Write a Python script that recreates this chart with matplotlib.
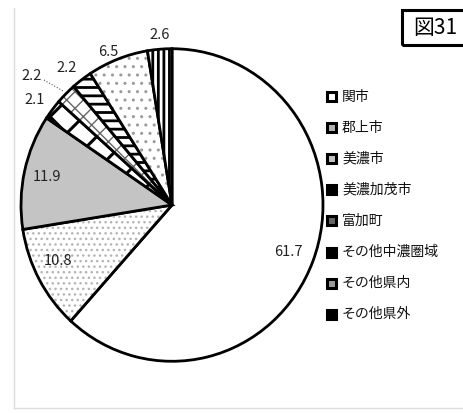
#!/usr/bin/env python3
# Pie chart: share by area (図31)
import matplotlib
matplotlib.use("Agg")
import matplotlib.pyplot as plt
from matplotlib.colors import to_rgba
from matplotlib.patches import Rectangle

plt.rcParams['font.family'] = ['Noto Sans CJK JP', 'DejaVu Sans']
plt.rcParams['hatch.linewidth'] = 1.8

# data (percent)
areas = ['関市', '郡上市', '美濃市', '美濃加茂市', '富加町',
         'その他中濃圏域', 'その他県内', 'その他県外']
shares = [61.7, 10.8, 11.9, 2.1, 2.2, 2.2, 6.5, 2.6]
value_labels = ['61.7', '10.8', '11.9', '2.1', '2.2', '2.2', '6.5', '2.6']

# styling of each wedge
faces = ['white', 'white', '#c4c4c4', 'white', 'white', 'white', 'white', 'white']
hatches = [None, '...', None, 'x', 'xx', '--', '..', '|||']
hatch_cols = ['black', '#b4b4b4', 'black', 'black', '#666666', 'black', '#9a9a9a', 'black']
hatch_lw = [1, 1, 1, 2.2, 1.0, 2.0, 1, 2.0]

# label positions in figure pixels (x, y from top)
label_pos = [(288, 252), (58, 261), (47, 177), (35, 100), (32, 76),
             (67, 68), (108, 52), (160, 35)]

W, H = 463, 413
CX, CY, R = 172, 205, 151
SY = 1.035          # the scanned pie is a little taller than wide


def pt(x, y):
    """figure pixel (y from top) -> data coords"""
    return x, (H - y) / SY


fig = plt.figure(figsize=(W / 100, H / 100), dpi=100)
ax = fig.add_axes([0, 0, 1, 1])

wedges, _ = ax.pie(shares, startangle=90, counterclock=False,
                   center=pt(CX, CY), radius=R,
                   wedgeprops=dict(edgecolor='black', linewidth=2.0))
for w, fc, h, hc, hl in zip(wedges, faces, hatches, hatch_cols, hatch_lw):
    w.set_facecolor(fc)
    if h:
        w.set_hatch(h)
        w._hatch_color = to_rgba(hc)
        if hasattr(w, 'set_hatch_linewidth'):
            w.set_hatch_linewidth(hl)

ax.set_aspect('auto')
ax.set_xlim(0, W)
ax.set_ylim(0, H / SY)
ax.axis('off')

# value labels
for (x, y), t in zip(label_pos, value_labels):
    ax.text(*pt(x, y), t, ha='center', va='center', fontsize=10.5, color='#222222')
# leader line for the small slice
(x0, y0), (x1, y1) = pt(44, 80), pt(63, 91)
ax.plot([x0, x1], [y0, y1], color='#555555', lw=0.8, ls=':')

# faint outer frame
(x0, y0), (x1, y1) = pt(14, 8), pt(W, 408)
ax.plot([x0, x0], [y0, y1], color='#dddddd', lw=1)
ax.plot([x0, x1], [y1, y1], color='#dddddd', lw=1)

# figure number box
bx, by = pt(402, 45)
ax.add_patch(Rectangle((bx, by), 80, 35 / SY, fill=False, edgecolor='black',
                       lw=2.2, clip_on=True))
ax.text(*pt(413, 28), '図31', ha='left', va='center', fontsize=15)

# legend drawn by hand: small boxed squares + labels
for i, (name, fc, hc) in enumerate(zip(areas, faces, hatch_cols)):
    lx, ly = pt(327, 97 + 31 * i)
    inner = 'white' if i == 0 else (fc if fc != 'white' else hc)
    ax.add_patch(Rectangle((lx, ly - 4.5 / SY), 9, 9 / SY, facecolor=inner,
                           edgecolor='black', lw=2.2))
    ax.text(342, ly, name, ha='left', va='center', fontsize=10, color='#111111')

fig.savefig('out.png', dpi=100)
